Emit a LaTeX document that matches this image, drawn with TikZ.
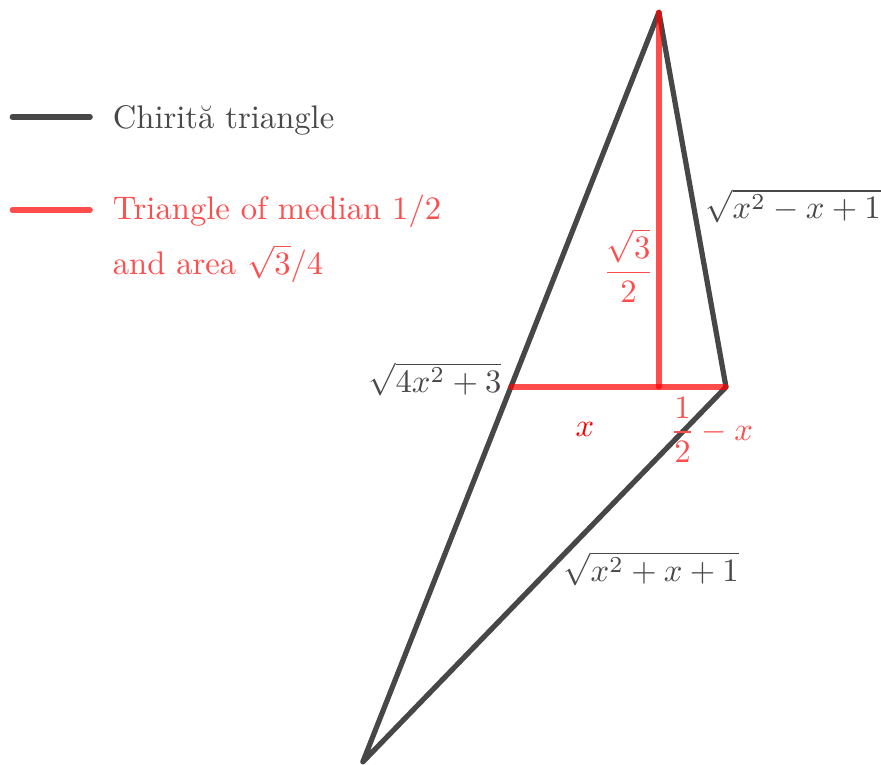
\documentclass[tikz,border=0pt]{standalone}
\usetikzlibrary{calc}
\definecolor{chgray}{RGB}{72,72,72}
\definecolor{medred}{RGB}{255,77,77}
\begin{document}
\begin{tikzpicture}[scale=4.66, line cap=round, line join=round]
      \tikzstyle{chir}=[draw=black, draw opacity=0.72, line width=1.6pt]
      \tikzstyle{med}=[draw=red, draw opacity=0.7, line width=1.6pt]
      \useasboundingbox (-1.522,-0.873) rectangle (0.513,0.894);
      \coordinate (A) at (0,0.866);
      \coordinate (H) at (0,0);
      \coordinate (C) at (0.155,0);
      \coordinate (P) at (-0.342,0);
      \coordinate (B) at (-0.684,-0.866);
      \draw[chir] (A) -- (C) -- (B) -- cycle;
      \draw[med] (P) -- (C);
      \draw[med] (A) -- (H);
      \node[right, text=chgray] (ac) at (0.081,0.418) {$\sqrt{x^2-x+1}$};
      \node[left, text=chgray] (ab) at (-0.337,0.018) {$\sqrt{4x^2+3}$};
      \node[right, text=chgray] (bc) at (-0.247,-0.42) {$\sqrt{x^2+x+1}$};
      \node[left, text=medred] (ah) at (0.016,0.28) {$\displaystyle\frac{\sqrt{3}}{2}$};
      \node[text=red] (ph) at (-0.171,-0.099) {$x$};
      \node[text=medred] (hc) at (0.122,-0.099) {$\displaystyle\frac{1}{2}-x$};
      % legend
      \coordinate (k1) at (-1.494,0.624);
      \coordinate (k2) at (-1.314,0.624);
      \coordinate (r1) at (-1.494,0.409);
      \coordinate (r2) at (-1.314,0.409);
      \draw[chir] (k1) -- (k2);
      \draw[med] (r1) -- (r2);
      \node[anchor=base west, inner sep=0, text=chgray] (kt) at (-1.263,0.598) {Chirit\u{a} triangle};
      \node[anchor=base west, inner sep=0, text=medred] (rt1) at (-1.263,0.386) {Triangle of median $1/2$};
      \node[anchor=base west, inner sep=0, text=medred] (rt2) at (-1.263,0.261) {and area $\sqrt{3}/4$};
\end{tikzpicture}
\end{document}
